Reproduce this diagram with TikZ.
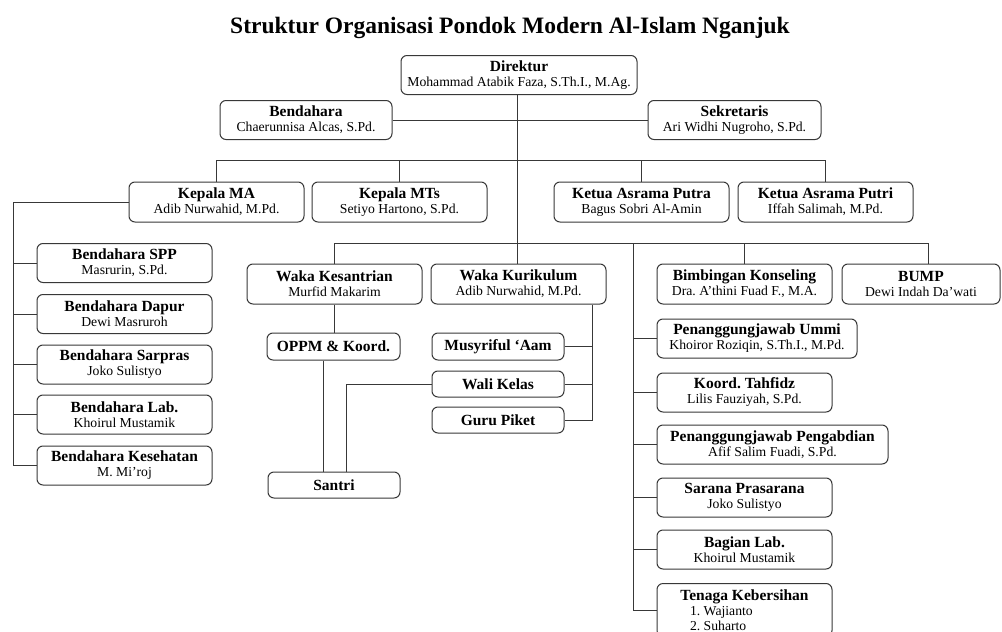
\documentclass[tikz,border=0pt]{standalone}
\usepackage{fontspec}
\setmainfont{Liberation Serif}
\frenchspacing
\newcommand\boxtitle[1]{{\fontsize{15.5}{15}\selectfont\bfseries #1}}
\begin{document}
\begin{tikzpicture}[x=1pt,y=-1pt,
  box/.style={draw=black!78, line width=1pt, rounded corners=6pt, inner sep=0pt, align=center,
    font=\fontsize{13.7}{15}\selectfont\frenchspacing, minimum width=175pt, minimum height=39pt},
  single/.style={box, font=\fontsize{15.5}{15}\selectfont\bfseries\frenchspacing, minimum width=132pt, minimum height=27pt},
  conn/.style={draw=black!78, line width=1pt}]
\useasboundingbox (0,0) rectangle (1002,632);
\fill[white] (0,0) rectangle (1002,632);
\clip (0,0) rectangle (1002,632);
% title
\node[anchor=base, font=\fontsize{23.5}{28}\selectfont\bfseries] (title) at (510,33) {Struktur Organisasi Pondok Modern Al-Islam Nganjuk};
% top
\node[box, minimum width=236pt] (dir) at (519,75) {\boxtitle{Direktur}\\Mohammad Atabik Faza, S.Th.I., M.Ag.};
\node[box, minimum width=172pt] (bend) at (306,120) {\boxtitle{Bendahara}\\Chaerunnisa Alcas, S.Pd.};
\node[box, minimum width=173pt] (sek) at (734.5,120) {\boxtitle{Sekretaris}\\Ari Widhi Nugroho, S.Pd.};
% row 2
\node[box, minimum height=40pt] (kma) at (216.5,202) {\boxtitle{Kepala MA}\\Adib Nurwahid, M.Pd.};
\node[box, minimum height=40pt] (kmts) at (399.5,202) {\boxtitle{Kepala MTs}\\Setiyo Hartono, S.Pd.};
\node[box, minimum height=40pt] (kput) at (641.5,202) {\boxtitle{Ketua Asrama Putra}\\Bagus Sobri Al-Amin};
\node[box, minimum height=40pt] (kputri) at (825.5,202) {\boxtitle{Ketua Asrama Putri}\\Iffah Salimah, M.Pd.};
% left column
\node[box] (bspp) at (124.5,263) {\boxtitle{Bendahara SPP}\\Masrurin, S.Pd.};
\node[box] (bdap) at (124.5,314) {\boxtitle{Bendahara Dapur}\\Dewi Masruroh};
\node[box] (bsar) at (124.5,364.5) {\boxtitle{Bendahara Sarpras}\\Joko Sulistyo};
\node[box] (blab) at (124.5,414.5) {\boxtitle{Bendahara Lab.}\\Khoirul Mustamik};
\node[box] (bkes) at (124.5,465.5) {\boxtitle{Bendahara Kesehatan}\\M. Mi'roj};
% row 3
\node[box, minimum height=40pt] (wkes) at (334.5,284) {\boxtitle{Waka Kesantrian}\\Murfid Makarim};
\node[box, minimum height=40pt] (wkur) at (518.5,284) {\boxtitle{Waka Kurikulum}\\Adib Nurwahid, M.Pd.};
\node[box, minimum height=40pt] (bk) at (744.5,284) {\boxtitle{Bimbingan Konseling}\\Dra. A'thini Fuad F., M.A.};
\node[box, minimum height=40pt, minimum width=158pt] (bump) at (921,284) {\boxtitle{BUMP}\\Dewi Indah Da'wati};
% middle
\node[single, minimum width=133pt] (oppm) at (333.5,346.5) {OPPM \& Koord.};
\node[single, minimum height=26pt] (santri) at (334,485) {Santri};
\node[single, minimum width=132pt] (musy) at (498,346.5) {Musyriful `Aam};
\node[single, minimum height=26pt] (wali) at (498,384) {Wali Kelas};
\node[single, minimum height=26pt] (guru) at (498,420) {Guru Piket};
% right column
\node[box, minimum width=200pt] (ummi) at (757,338.5) {\boxtitle{Penanggungjawab Ummi}\\Khoiror Roziqin, S.Th.I., M.Pd.};
\node[box] (tahf) at (744.5,392.5) {\boxtitle{Koord. Tahfidz}\\Lilis Fauziyah, S.Pd.};
\node[box, minimum width=231pt] (peng) at (772.5,444.5) {\boxtitle{Penanggungjawab Pengabdian}\\Afif Salim Fuadi, S.Pd.};
\node[box] (sar) at (744.5,497.5) {\boxtitle{Sarana Prasarana}\\Joko Sulistyo};
\node[box] (lab) at (744.5,549.5) {\boxtitle{Bagian Lab.}\\Khoirul Mustamik};
\node[box, anchor=north, inner ysep=6pt, align=left] (tk) at (744.5,583)
  {\makebox[173pt][c]{\boxtitle{Tenaga Kebersihan}}\\\hspace*{32pt}1. Wajianto\\\hspace*{32pt}2. Suharto};
% coordinates
\coordinate (spine) at (517,0);
\coordinate (b1R) at (825.5,160);
\coordinate (lb) at (13,0);
\coordinate (b2R) at (928,243);
\coordinate (rs) at (633,243);
\coordinate (ws) at (592,0);
\coordinate (tkt) at ([yshift=-27pt]tk.north west);
% connectors
\draw[conn] (dir.south -| spine) -- (wkur.north -| spine);
\draw[conn] (bend.east) -- (sek.west);
\draw[conn] (kma.north) |- (b1R) -- (kputri.north);
\draw[conn] (kmts.north) -- (kmts.north |- b1R);
\draw[conn] (kput.north) -- (kput.north |- b1R);
\draw[conn] (kma.west) -| (lb |- bkes.west) -- (bkes.west);
\foreach \n in {bspp,bdap,bsar,blab} \draw[conn] (\n.west) -- (\n.west -| lb);
\draw[conn] (wkes.north) |- (b2R) -- (b2R |- bump.north);
\draw[conn] (bk.north) -- (bk.north |- b2R);
\draw[conn] (rs) -- (rs |- tkt) -- (tkt);
\foreach \n in {ummi,tahf,peng,sar,lab} \draw[conn] (\n.west) -- (\n.west -| rs);
\draw[conn] (wkes.south) -- (wkes.south |- oppm.north);
\draw[conn] ([xshift=-10.5pt]oppm.south) -- ([xshift=-10.5pt]oppm.south |- santri.north);
\draw[conn] ([xshift=12pt]santri.north) |- (wali.west);
\draw[conn] (wkur.south -| ws) |- (guru.east);
\draw[conn] (musy.east) -- (musy.east -| ws);
\draw[conn] (wali.east) -- (wali.east -| ws);
\end{tikzpicture}
\end{document}
